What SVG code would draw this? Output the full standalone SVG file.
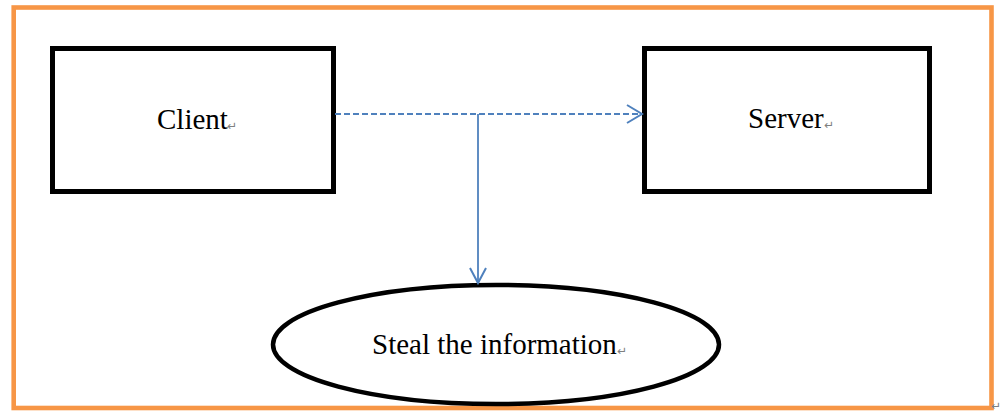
<svg xmlns="http://www.w3.org/2000/svg" width="1000" height="415" viewBox="0 0 1000 415">
<style>
.box{fill:#fff;stroke:#000;stroke-width:5}
.lbl{font-family:"Liberation Serif","Times New Roman",serif;font-size:29px;fill:#000}
.ret{font-family:"DejaVu Sans",sans-serif;font-size:12px;fill:#808080}
.conn{fill:none;stroke:#4F81BD;stroke-width:1.8}
.head{fill:none;stroke:#4F81BD;stroke-width:2;stroke-linejoin:miter}
</style>
<rect width="1000" height="415" fill="#fff"/>
<rect id="frame" x="13.7" y="7.5" width="977.8" height="400.5" fill="none" stroke="#F79646" stroke-width="4.6"/>
<text class="ret" x="991" y="410">↵</text>
<g id="client">
<rect class="box" x="52.5" y="48.5" width="281" height="143"/>
<text class="lbl" x="157" y="129">Client</text>
<text class="ret" x="227" y="130">↵</text>
</g>
<g id="server">
<rect class="box" x="644.5" y="48.5" width="285" height="143"/>
<text class="lbl" x="748" y="128">Server</text>
<text class="ret" x="824" y="129">↵</text>
</g>
<g id="steal">
<ellipse cx="496" cy="344.5" rx="223" ry="59.5" fill="#fff" stroke="#000" stroke-width="4.5"/>
<text class="lbl" x="372" y="354">Steal the information</text>
<text class="ret" x="617" y="355">↵</text>
</g>
<g id="connectors">
<line class="conn" x1="335" y1="114" x2="642" y2="114" stroke-dasharray="6,3"/>
<polyline class="head" points="627,105 642,114 627,123"/>
<line class="conn" x1="478" y1="114" x2="478" y2="283"/>
<polyline class="head" points="470,268 478,283 486,268"/>
</g>
</svg>
